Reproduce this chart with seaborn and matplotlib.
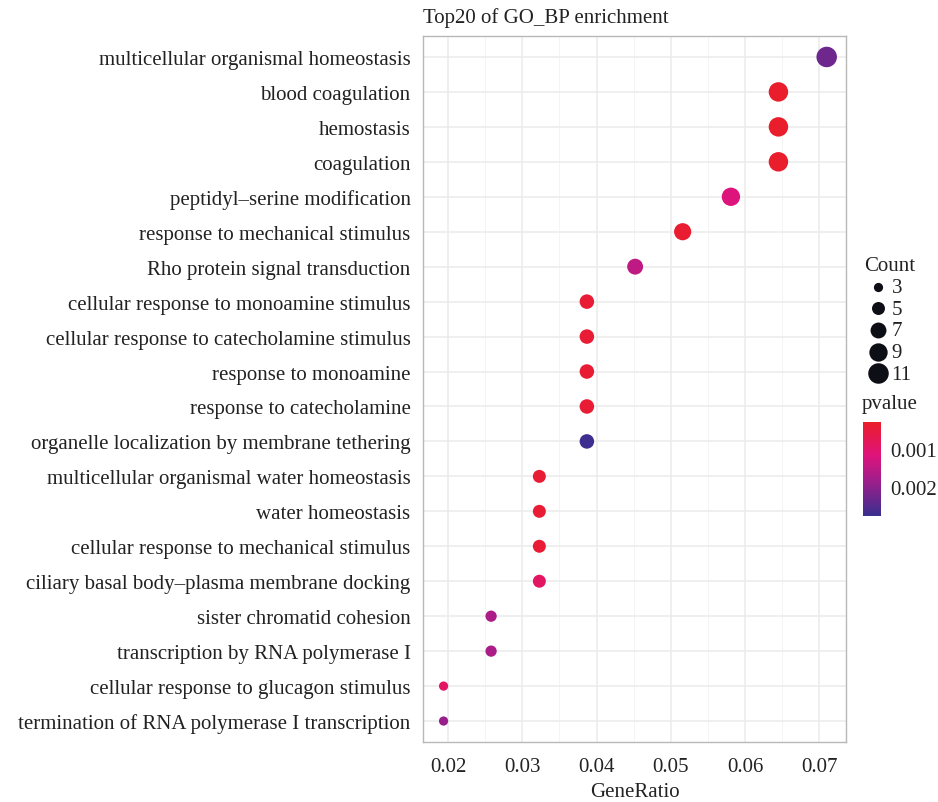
import numpy as np
import pandas as pd
import matplotlib
matplotlib.use("Agg")
import matplotlib.pyplot as plt
import seaborn as sns
from matplotlib.colors import LinearSegmentedColormap, Normalize
from matplotlib.colorbar import ColorbarBase

terms = [
    "multicellular organismal homeostasis",
    "blood coagulation",
    "hemostasis",
    "coagulation",
    "peptidyl\u2013serine modification",
    "response to mechanical stimulus",
    "Rho protein signal transduction",
    "cellular response to monoamine stimulus",
    "cellular response to catecholamine stimulus",
    "response to monoamine",
    "response to catecholamine",
    "organelle localization by membrane tethering",
    "multicellular organismal water homeostasis",
    "water homeostasis",
    "cellular response to mechanical stimulus",
    "ciliary basal body\u2013plasma membrane docking",
    "sister chromatid cohesion",
    "transcription by RNA polymerase I",
    "cellular response to glucagon stimulus",
    "termination of RNA polymerase I transcription",
]
counts = [11, 10, 10, 10, 9, 8, 7, 6, 6, 6, 6, 6, 5, 5, 5, 5, 4, 4, 3, 3]
gene_ratio = [0.0710, 0.0645, 0.0645, 0.0645, 0.0581, 0.0516, 0.0452, 0.0387,
              0.0387, 0.0387, 0.0387, 0.0387, 0.0323, 0.0323, 0.0323, 0.0323,
              0.0258, 0.0258, 0.0194, 0.0194]
pvalues = [0.0023, 0.0003, 0.0003, 0.0003, 0.0012, 0.00035, 0.0015, 0.0004,
           0.0004, 0.0004, 0.0004, 0.00275, 0.0004, 0.0004, 0.0004, 0.0009,
           0.0017, 0.0017, 0.0009, 0.0019]
x_ticks = [0.02, 0.03, 0.04, 0.05, 0.06, 0.07]
count_legend = [3, 5, 7, 9, 11]
pvalue_ticks = [0.001, 0.002]

df = pd.DataFrame({"Description": terms, "GeneRatio": gene_ratio,
                   "Count": counts, "pvalue": pvalues})

sns.set_theme(style="white")
plt.rcParams["font.family"] = ["Liberation Serif", "DejaVu Serif"]
TXT = "#222222"
FS = 15

cmap = LinearSegmentedColormap.from_list(
    "pv", [(0.0, "#EA1D2A"), (0.35, "#E0137B"), (0.62, "#A01E8B"), (1.0, "#3A2F8F")])
pnorm = Normalize(vmin=0.00027, vmax=0.00278)

size_range = (44, 218)
size_norm = (3, 11)

def size_of(c):
    return size_range[0] + (c - size_norm[0]) / (size_norm[1] - size_norm[0]) * (size_range[1] - size_range[0])

fig = plt.figure(figsize=(9.38, 8.03), dpi=100)
ax = fig.add_axes([423 / 938, 1 - 743 / 803, (846 - 423) / 938, (743 - 37) / 803])

sns.scatterplot(data=df, x="GeneRatio", y="Description", size="Count",
                sizes=size_range, size_norm=size_norm, hue="pvalue",
                palette=cmap, hue_norm=pnorm, legend=False, ax=ax,
                linewidth=0, zorder=3)

ax.set_xticks(x_ticks)
ax.set_xticklabels([f"{v:.2f}" for v in x_ticks])
ax.set_xticks([v + 0.005 for v in [0.01] + x_ticks], minor=True)
ax.set_xlim(0.01663, 0.0736)
ax.set_ylim(len(terms) - 0.4, -0.6)
ax.grid(True, which="major", color="#EBEBEB", linewidth=1.1, zorder=0)
ax.grid(True, which="minor", axis="x", color="#F2F2F2", linewidth=0.6, zorder=0)
ax.set_axisbelow(True)
for s in ax.spines.values():
    s.set_color("#B8B8B8")
    s.set_linewidth(1.0)
ax.tick_params(axis="both", which="major", length=3, color="#888888",
               labelsize=FS, labelcolor=TXT, pad=6, width=0.8)
ax.tick_params(axis="x", which="major", pad=8)
ax.tick_params(axis="x", which="minor", length=0)
ax.set_ylabel("")
ax.set_xlabel("GeneRatio", fontsize=FS, color=TXT, labelpad=4)
ax.set_title("Top20 of GO_BP enrichment", loc="left", fontsize=FS,
             color=TXT, pad=10)

# Count legend
handles = [ax.scatter([], [], s=size_of(c), color="#0E0E16", linewidth=0)
           for c in count_legend]
leg = ax.legend(handles, [str(c) for c in count_legend], title="Count",
                loc="upper left", bbox_to_anchor=(854 / 938, 1 - 247 / 803),
                bbox_transform=fig.transFigure, frameon=False,
                fontsize=FS, title_fontsize=FS, labelspacing=0.1,
                handletextpad=0.0, borderpad=0, handlelength=1.3,
                alignment="left")
for t in leg.get_texts():
    t.set_color(TXT)
leg.get_title().set_color(TXT)

# pvalue colorbar
fig.text(862 / 938, 1 - 405 / 803, "pvalue", fontsize=FS, color=TXT,
         va="center", ha="left")
cax = fig.add_axes([863 / 938, 1 - 517 / 803, 18 / 938, 94 / 803])
cb = ColorbarBase(cax, cmap=cmap, norm=pnorm, orientation="vertical")
cax.invert_yaxis()
cb.set_ticks(pvalue_ticks)
cb.set_ticklabels([str(v) for v in pvalue_ticks])
cb.outline.set_visible(False)
cax.tick_params(length=3, color="white", labelsize=FS, labelcolor=TXT, pad=4)

fig.savefig("out.png", dpi=100)
